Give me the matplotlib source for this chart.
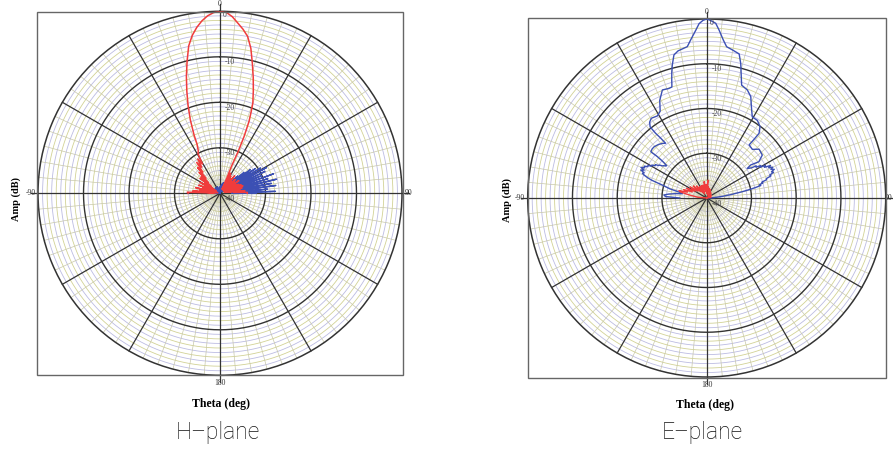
import numpy as np
import matplotlib
matplotlib.use("Agg")
import matplotlib.pyplot as plt
from matplotlib.patches import Rectangle

# (theta deg, amplitude dB)
# H-plane, co-pol (red)
h_co = [(-90, -33.0), (-88, -32.8), (-87, -38.5), (-85, -34.0), (-83, -39.0), (-81, -35.5),
        (-79, -38.0), (-77, -34.5), (-75, -39.5), (-73, -36.0), (-71, -38.5), (-69, -35.0),
        (-67, -39.0), (-65, -36.5), (-63, -38.0), (-61, -35.0), (-59, -39.0), (-57, -36.0),
        (-55, -38.0), (-53, -34.5), (-51, -37.5), (-49, -34.5), (-47, -36.5), (-45, -33.5),
        (-43, -35.5), (-41, -32.5), (-39, -34.0), (-37, -31.5), (-35, -33.0), (-33, -31.0),
        (-31, -32.5), (-29, -30.0), (-27, -29.5), (-25, -28.0), (-24, -26.0), (-22, -22.6),
        (-20, -19.5), (-18, -16.4), (-16, -13.2), (-14, -10.1), (-12, -6.9), (-10, -4.8),
        (-8, -3.2), (-6, -1.9), (-4, -0.9), (-2, -0.25), (0, 0.0), (2, -0.2), (4, -1.1),
        (6, -2.4), (8, -3.6), (10, -5.0), (12, -7.4), (14, -10.6), (16, -13.5), (18, -16.3),
        (20, -18.9), (21, -21.0), (22, -23.0), (23, -26.5), (23.5, -30.0), (23, -33.5),
        (24, -36.0), (26, -39.0), (28, -35.0), (30, -38.5), (32, -35.5), (34, -39.0),
        (36, -36.0), (38, -38.5), (40, -35.0), (42, -39.0), (44, -36.5), (46, -38.0),
        (48, -35.5), (50, -39.0), (52, -36.0), (54, -38.5), (56, -35.0), (58, -39.0),
        (60, -36.0), (62, -38.0), (64, -35.5), (66, -39.0), (68, -35.0), (70, -38.0),
        (72, -34.7), (74, -37.5), (76, -35.0), (78, -39.0), (80, -35.5), (82, -38.0),
        (84, -34.5), (86, -37.0), (88, -34.0), (90, -34.0)]

# H-plane, cross-pol (blue)
h_cross = [(-90, -40), (-86, -38.5), (-82, -40), (-78, -37.5), (-74, -40), (-70, -38),
           (-66, -40), (-62, -38.8), (-58, -40), (-54, -38.5), (-50, -40), (-46, -39),
           (-42, -40), (-38, -38.5), (-34, -40), (-30, -39), (-26, -40), (-22, -38.5),
           (-18, -40), (-14, -39.5), (-10, -40), (-6, -39), (-2, -40), (2, -38.5),
           (6, -40), (10, -38), (14, -40), (18, -37.5), (22, -39.5), (26, -36.5),
           (30, -39), (34, -36), (38, -38.5), (40, -35.8), (41.5, -39), (43, -35.5),
           (44.5, -39.5), (46, -34.5), (47.5, -39), (49, -33), (50.5, -38.5), (52, -31.5),
           (53.5, -39), (55, -30.5), (56.5, -38), (58, -29.5), (59.5, -37.5), (61, -28.3),
           (62.5, -38), (64, -29), (65.5, -36.5), (67, -30), (68.5, -37), (70, -27.5),
           (71.5, -38), (73, -29), (74.5, -36), (76, -27.2), (77.5, -37.5), (79, -28.5),
           (80.5, -36.5), (82, -27.6), (83.5, -38), (85, -29.5), (86.5, -36), (88, -27.8),
           (89, -37.5), (90, -32)]

# E-plane, co-pol (blue)
e_co = [(-90, -34.0), (-88, -30.8), (-86, -30.4), (-84, -31.5), (-82, -33.0), (-80, -34.5),
        (-78, -33.8), (-76, -31.5), (-74, -30.0), (-73, -28.6), (-72, -27.0), (-71, -26.0),
        (-70, -25.2), (-69, -24.6), (-68, -24.9), (-67, -24.0), (-66, -24.7), (-65, -23.8),
        (-64, -24.6), (-63, -24.3), (-62, -25.1), (-61, -25.0), (-60, -25.8), (-59, -25.7),
        (-58, -26.4), (-57, -26.3), (-56, -27.0), (-55, -27.2), (-54, -27.8), (-53, -28.0),
        (-52, -28.4), (-51, -28.5), (-50.2, -27.0), (-50, -25.6), (-50.4, -23.8), (-48, -23.6),
        (-45.7, -23.6), (-42, -23.9), (-39, -24.3), (-36.9, -24.7), (-37.6, -23.0),
        (-38.3, -21.6), (-38.5, -19.7), (-37, -18.8), (-34.8, -18.3), (-31, -18.6),
        (-28.2, -18.0), (-25.7, -15.8), (-22.3, -13.9), (-19.1, -14.1), (-17.4, -14.0),
        (-16.5, -12.5), (-15.5, -10.8), (-14.5, -9.3), (-12.9, -7.2), (-11, -6.5),
        (-9, -6.2), (-7.3, -5.9), (-5.8, -4.5), (-3.7, -2.4), (-2.5, -1.0), (-1.2, -0.3),
        (0, 0.0), (1.2, -0.3), (2.95, -0.9), (4.2, -2.35), (6.0, -4.5), (7.5, -5.9),
        (9.8, -6.4), (12.7, -7.0), (14.2, -9.0), (15.9, -11.8), (17.2, -13.6), (20.6, -14.2),
        (23.5, -15.3), (26.1, -17.3), (29.3, -19.2), (33.2, -19.3), (36.8, -20.1),
        (39, -21.4), (38.9, -23.2), (38.6, -24.8), (43.2, -25.1), (47, -24.0), (52.3, -24.3),
        (55.2, -25.8), (53.1, -27.7), (53.9, -28.8), (56, -28.0), (57, -26.8), (58, -27.0),
        (59, -25.9), (60, -26.3), (61, -25.0), (62, -25.4), (63, -24.0), (64, -24.6),
        (65, -23.7), (66, -24.3), (67, -23.6), (68, -24.4), (69, -24.0), (70, -25.0),
        (71, -24.8), (72, -26.0), (73, -26.0), (74, -27.2), (75, -27.0), (76, -27.9),
        (77, -27.6), (78, -29.0), (79, -30.5), (80, -32.0), (82, -34.5), (84, -36.5),
        (86, -38.0), (88, -39.0), (90, -39.5)]

# E-plane, cross-pol (red)
e_cross = [(-90, -40), (-85, -38), (-80, -36), (-77, -34), (-75, -33.6), (-73, -35.5),
           (-70, -34.5), (-67, -36.5), (-64, -35), (-60, -37), (-56, -35.5), (-52, -37.5),
           (-48, -36), (-44, -38), (-40, -36.5), (-36, -38.5), (-32, -37), (-28, -39),
           (-24, -37), (-20, -38.5), (-16, -37), (-12, -38), (-9, -36.3), (-6, -38.5),
           (-3, -37), (0, -39), (2, -37.5), (4, -36), (6, -38.5), (9, -37.5), (12, -39),
           (16, -37.8), (20, -39.2), (25, -38), (30, -39.5), (40, -38.5), (50, -39.5),
           (60, -38.8), (70, -39.5), (80, -39), (90, -40)]

ring_values = [0, -10, -20, -30, -40]
ring_labels = ["0", "-10", "-20", "-30", "-40"]
theta_ticks = [0, 90, 180, 270]
theta_labels = ["0", "90", "180", "-90"]

RED = "#f03c3c"
BLUE = "#3c50b4"
SERIF = "Liberation Serif"

W, H = 893, 450
fig = plt.figure(figsize=(W / 100, H / 100), dpi=100)


def px_box(x0, y0, x1, y1):
    return [x0 / W, 1 - y1 / H, (x1 - x0) / W, (y1 - y0) / H]


def setup(ax, right_off):
    ax.set_theta_zero_location("N")
    ax.set_theta_direction(-1)
    ax.set_ylim(-40, 0)
    ax.set_xticks([])
    ax.set_yticks([])
    ax.grid(False)
    full = np.linspace(0, 2 * np.pi, 721)
    # fine rings every 1 dB, two alternating tints
    for i, r in enumerate(range(-39, 0)):
        if r % 10 == 0:
            continue
        col = "#d2d296" if i % 2 else "#bcbce2"
        ax.plot(full, np.full_like(full, r), color=col, lw=0.6, zorder=1)
    # fine spokes every 5 deg
    for d in range(0, 360, 5):
        if d % 30 == 0:
            continue
        ax.plot([np.radians(d)] * 2, [-40, 0], color="#c8c8aa", lw=0.5, zorder=1)
    for r in [-30, -20, -10]:
        ax.plot(full, np.full_like(full, r), color="#333333", lw=1.0, zorder=2)
    for d in range(0, 360, 30):
        ext = 1.5 if d % 90 == 0 else 0
        ax.plot([np.radians(d)] * 2, [-40, ext], color="#333333", lw=0.9,
                zorder=2, clip_on=False)
    ax.spines["polar"].set_color("#333333")
    ax.spines["polar"].set_linewidth(1.1)

    for r, lab in zip(ring_values, ring_labels):
        off = (3.5, -3) if r == 0 else (7, -4)
        ax.annotate(lab, xy=(0, r), xytext=off, textcoords="offset points",
                    ha="center", va="center", fontsize=5.5, family=SERIF,
                    color="#444444", zorder=5)
    offs = {0: (0, 5), 90: (right_off, 0), 180: (0, -5.5), 270: (-5.5, 0)}
    for d, lab in zip(theta_ticks, theta_labels):
        ax.annotate(lab, xy=(np.radians(d), 0), xytext=offs[d], textcoords="offset points",
                    ha="center", va="center", fontsize=5.5, family=SERIF,
                    color="#333333", annotation_clip=False)


def draw(ax, series, color, lw):
    deg = np.array([p[0] for p in series])
    amp = np.array([p[1] for p in series])
    ax.plot(np.radians(deg), amp, color=color, lw=lw, zorder=4)


panels = [
    dict(box=(37.3, 11.7, 402.7, 375), cx=220, cy=193.3, r=182, right_off=5,
         series=[(h_cross, BLUE, 1.0), (h_co, RED, 1.1)],
         name="H\u2013plane", amp_x=16, amp_y=199, th_x=221, th_y=404, nm_x=218),
    dict(box=(527.7, 18.3, 885.7, 377.7), cx=706.7, cy=198, r=179, right_off=2.2,
         series=[(e_co, BLUE, 1.0), (e_cross, RED, 1.0)],
         name="E\u2013plane", amp_x=507, amp_y=200, th_x=705, th_y=405, nm_x=702),
]

for p in panels:
    x0, y0, x1, y1 = p["box"]
    fig.patches.append(Rectangle((x0 / W, 1 - y1 / H), (x1 - x0) / W, (y1 - y0) / H,
                                 transform=fig.transFigure, fill=False,
                                 ec="#666666", lw=1.0))
    ax = fig.add_axes(px_box(p["cx"] - p["r"], p["cy"] - p["r"],
                             p["cx"] + p["r"], p["cy"] + p["r"]), projection="polar")
    setup(ax, p["right_off"])
    for s, c, lw in p["series"]:
        draw(ax, s, c, lw)
    fig.text(p["amp_x"] / W, 1 - p["amp_y"] / H, "Amp (dB)", rotation=90,
             ha="center", va="center", fontsize=7.5, family=SERIF, fontweight="bold")
    fig.text(p["th_x"] / W, 1 - p["th_y"] / H, "Theta (deg)", ha="center", va="center",
             fontsize=8.5, family=SERIF, fontweight="bold")
    fig.text(p["nm_x"] / W, 1 - 432 / H, p["name"], ha="center", va="center",
             fontsize=16.5, family="Roboto", fontweight="light", color="#111111")

fig.savefig("out.png", dpi=100)
